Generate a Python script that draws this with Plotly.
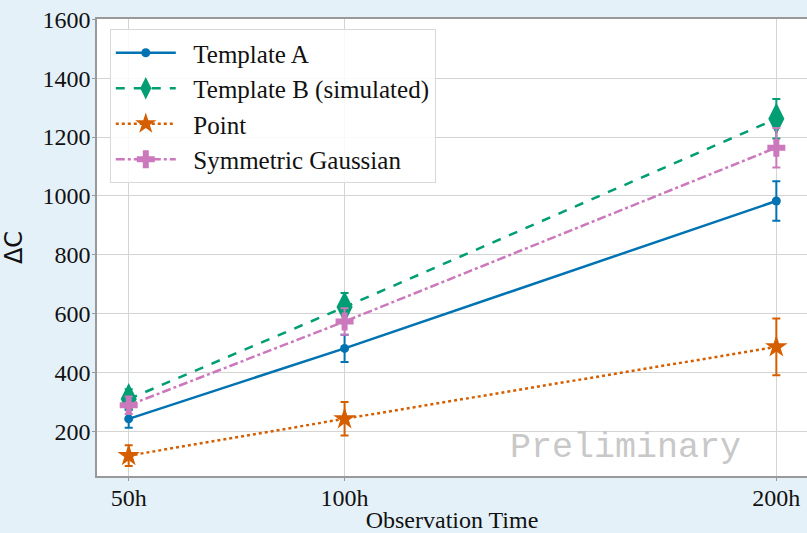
import plotly.graph_objects as go

# Observation times (hours) and tick labels
hours = [50, 100, 200]
tick_labels = ["50h", "100h", "200h"]
y_ticks = [200, 400, 600, 800, 1000, 1200, 1400, 1600]

# Delta C per template, with symmetric uncertainties
template_a = [244, 483, 983]
template_a_err = [30, 46, 67]

template_b = [311, 623, 1262]
template_b_err = [33, 48, 67]

point = [119, 244, 488]
point_err = [35, 57, 96]

sym_gauss = [290, 574, 1164]
sym_gauss_err = [30, 45, 67]

series = [
    ("Template A", template_a, template_a_err, "#0173b2", "solid", "circle", 9),
    ("Template B (simulated)", template_b, template_b_err, "#029e73", "dash", "diamond-tall", 23),
    ("Point", point, point_err, "#d55e00", "dot", "star", 17),
    ("Symmetric Gaussian", sym_gauss, sym_gauss_err, "#cc78bc", "dashdot", "cross", 15),
]

NBSP = "\u00a0"

fig = go.Figure()
for i, (name, vals, errs, color, dash, symbol, size) in enumerate(series):
    fig.add_trace(go.Scatter(
        x=hours, y=vals, name=NBSP * 2 + name, mode="lines+markers",
        legendgroup=f"g{i}",
        line=dict(color=color, width=2.5, dash=dash),
        marker=dict(symbol=symbol, size=size, color=color, line=dict(width=0)),
        error_y=dict(type="data", array=errs, visible=True, color=color,
                     thickness=2, width=4),
    ))

serif = "Liberation Serif"
tick_font = dict(family=serif, size=24, color="#111")

fig.update_layout(
    width=807, height=533,
    margin=dict(l=97, r=0, t=19, b=52),
    paper_bgcolor="#e5f1f8",
    plot_bgcolor="white",
    font=dict(family=serif, size=24, color="#111"),
    showlegend=True,
    legend=dict(
        x=0.018, y=0.978, xanchor="left", yanchor="top",
        bgcolor="rgba(255,255,255,0.85)", bordercolor="#d8d8d8", borderwidth=1,
        font=dict(family=serif, size=25, color="#111"),
        tracegroupgap=0, itemwidth=60,
    ),
    xaxis=dict(
        range=[42.66, 207.1], tickvals=hours, ticktext=tick_labels,
        tickfont=tick_font, ticklabelstandoff=-4,
        showgrid=True, gridcolor="#d4d4d4", gridwidth=1,
        showline=True, linecolor="#999", linewidth=1.5, mirror=True,
        ticks="outside", ticklen=3, tickcolor="#999",
        zeroline=False,
        title=dict(text="Observation Time", font=dict(family=serif, size=24, color="#111"), standoff=6),
    ),
    yaxis=dict(
        range=[50, 1600.5], tickvals=y_ticks,
        tickfont=tick_font, ticklabelstandoff=-3,
        showgrid=True, gridcolor="#d4d4d4", gridwidth=1,
        showline=True, linecolor="#999", linewidth=1.5,
        ticks="outside", ticklen=3, tickcolor="#999",
        zeroline=False,
        title=dict(text="ΔC", font=dict(family="DejaVu Sans", size=24, color="#111"), standoff=15),
    ),
    annotations=[dict(
        text="Preliminary", x=0.745, y=0.062, xref="paper", yref="paper",
        xanchor="center", yanchor="middle", showarrow=False,
        font=dict(family="Liberation Mono", size=35, color="#c8c8c8"),
    )],
)

fig.write_html("out.html")
